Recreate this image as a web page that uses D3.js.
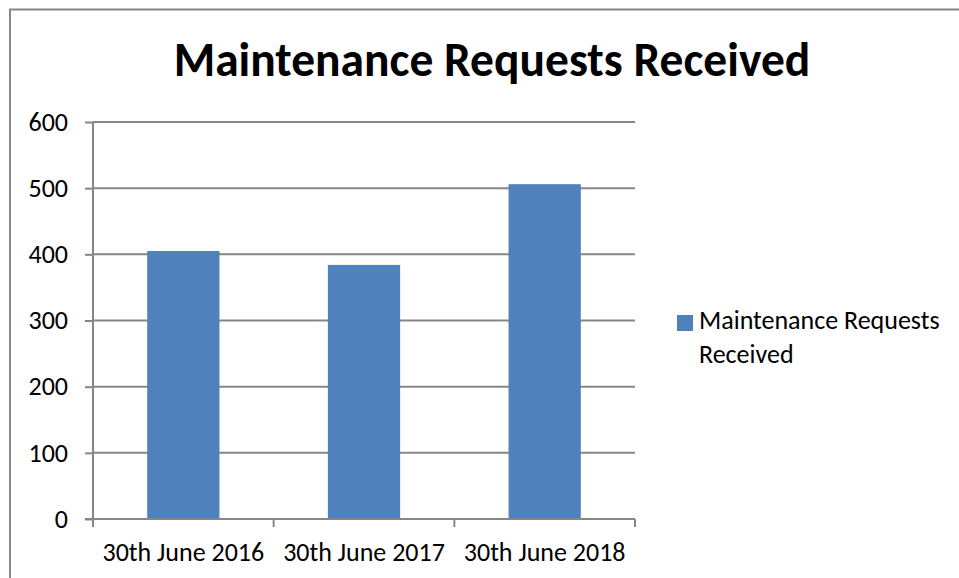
<!DOCTYPE html>
<html>
<head>
<meta charset="utf-8">
<script src="https://cdn.jsdelivr.net/npm/d3@7"></script>
<style>
  body { margin: 0; background: #fff; }
  svg { display: block; font-family: Carlito, Calibri, Lato, sans-serif; }
</style>
</head>
<body>
<div id="chart"></div>
<script>
// Maintenance requests per year - single series column chart

var categories = ["30th June 2016", "30th June 2017", "30th June 2018"];
var requests = [405, 384, 506];
var yTicks = [0, 100, 200, 300, 400, 500, 600];
var seriesName = "Maintenance Requests Received";
var titleText = "Maintenance Requests Received";

var width = 959, height = 578;
var plot = {left: 93, right: 635, top: 122, bottom: 519};

var svg = d3.select("#chart")
    .append("svg")
    .attr("width", width)
    .attr("height", height);

// chart frame (runs off the right/bottom of the picture)
svg.append("rect")
    .attr("x", 10)
    .attr("y", 9.5)
    .attr("width", 1000)
    .attr("height", 1000)
    .attr("fill", "none")
    .attr("stroke", "#868686")
    .attr("stroke-width", 2);

//Scales
var x = d3.scaleBand()
    .domain(categories)
    .range([plot.left, plot.right])
    .padding(0);

var y = d3.scaleLinear()
    .domain([0, 600])
    .range([plot.bottom, plot.top]);

// gridlines
svg.append("g")
    .selectAll("line")
    .data(yTicks.filter(function (d) { return d > 0; }))
    .enter()
    .append("line")
    .attr("x1", plot.left)
    .attr("x2", plot.right)
    .attr("y1", function (d) { return y(d); })
    .attr("y2", function (d) { return y(d); })
    .attr("stroke", "#868686")
    .attr("stroke-width", 2);

// bars, 40% of each category band, centred
var barW = x.bandwidth() * 0.4;
svg.append("g")
    .selectAll("rect")
    .data(requests)
    .enter()
    .append("rect")
    .attr("x", function (d, i) { return x(categories[i]) + (x.bandwidth() - barW) / 2; })
    .attr("y", function (d) { return y(d); })
    .attr("width", barW)
    .attr("height", function (d) { return y(0) - y(d); })
    .attr("fill", "#4f81bd");

//Y Axis
var yAxis = svg.append("g")
    .attr("transform", "translate(" + plot.left + ",0)")
    .call(d3.axisLeft(y).tickValues(yTicks).tickSize(8).tickPadding(17));

//X Axis - ticks on category boundaries
var xAxis = svg.append("g")
    .attr("transform", "translate(0," + plot.bottom + ")")
    .call(d3.axisBottom(x).tickSize(0));

xAxis.append("g")
    .selectAll("line")
    .data(categories.map(function (c) { return x(c); }).concat([plot.right]))
    .enter()
    .append("line")
    .attr("x1", function (d) { return d; })
    .attr("x2", function (d) { return d; })
    .attr("y1", 0)
    .attr("y2", 8)
    .attr("stroke", "#868686")
    .attr("stroke-width", 2);

[yAxis, xAxis].forEach(function (g) {
    g.select(".domain").attr("stroke", "#868686").attr("stroke-width", 2);
    g.selectAll(".tick line").attr("stroke", "#868686").attr("stroke-width", 2);
    g.selectAll(".tick text")
        .attr("fill", "#000")
        .attr("font-size", "26px")
        .attr("font-family", "Carlito, Calibri, Lato, sans-serif");
});
yAxis.select(".domain").attr("d", "M0," + plot.bottom + "V" + plot.top);
xAxis.select(".domain").attr("d", "M" + (plot.left - 8) + ",0H" + plot.right);
xAxis.selectAll(".tick text").attr("y", 42).attr("dy", 0);

// Title
svg.append("text")
    .text(titleText)
    .attr("x", 492)
    .attr("y", 76)
    .attr("text-anchor", "middle")
    .attr("font-size", "47.5px")
    .attr("font-weight", "bold")
    .attr("fill", "#000");

// Legend
var legend = svg.append("g").attr("transform", "translate(677,315)");
legend.append("rect")
    .attr("width", 16)
    .attr("height", 16)
    .attr("fill", "#4f81bd");
legend.append("text")
    .attr("x", 22)
    .attr("y", 14)
    .attr("font-size", "26px")
    .attr("fill", "#000")
    .selectAll("tspan")
    .data(["Maintenance Requests", "Received"])
    .enter()
    .append("tspan")
    .attr("x", 22)
    .attr("dy", function (d, i) { return i === 0 ? 0 : 33.5; })
    .text(function (d) { return d; });
</script>
</body>
</html>
